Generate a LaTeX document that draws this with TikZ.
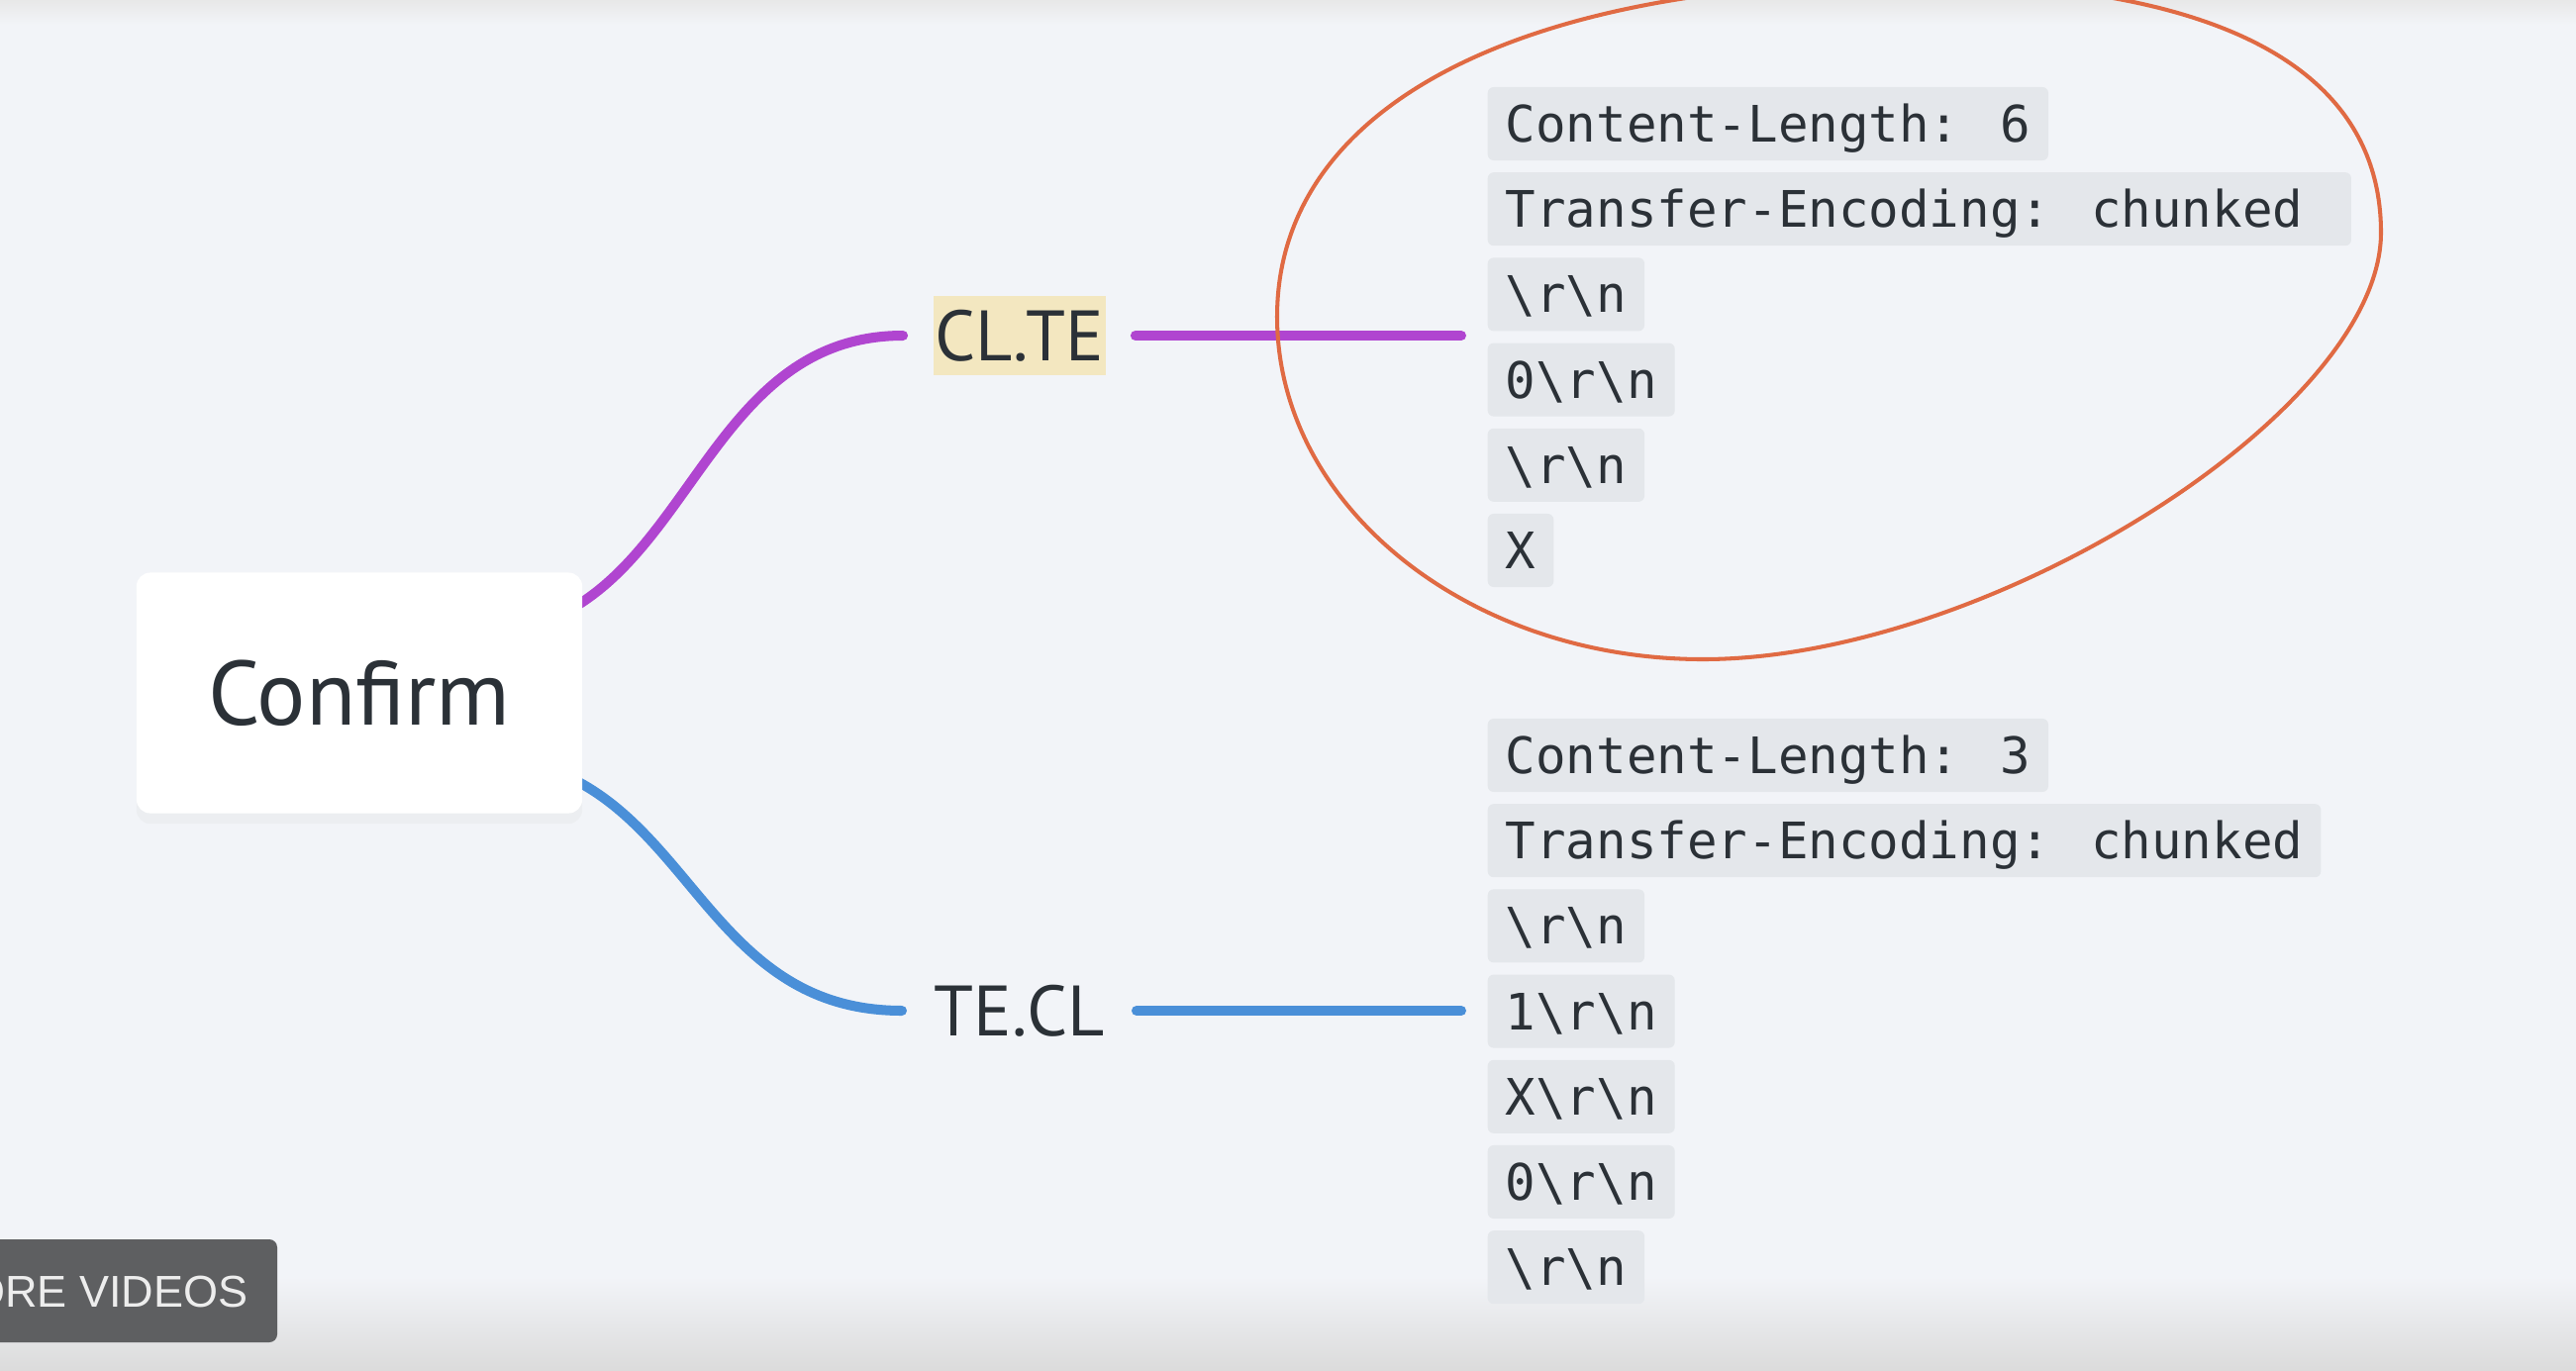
\documentclass[tikz,border=0pt]{standalone}
\usepackage{fontspec}
\setmainfont{PT Sans}
\newfontfamily\codefont{DejaVu Sans Mono}
\newfontfamily\btnfont{Liberation Sans}
\usetikzlibrary{shadows}

\definecolor{bg}{HTML}{F2F4F8}
\definecolor{ink}{HTML}{2B3137}
\definecolor{codegray}{HTML}{E4E7EB}
\definecolor{clteline}{HTML}{B045D0}
\definecolor{teclline}{HTML}{4A8FD8}
\definecolor{ringcol}{HTML}{E06A43}
\definecolor{marker}{HTML}{F3E7C0}
\definecolor{btngray}{HTML}{5E5F61}

\pgfdeclarelayer{paper}
\pgfdeclarelayer{branches}
\pgfsetlayers{paper,branches,main}

\newcommand{\crlf}{\textbackslash r\textbackslash n}

\tikzset{
    codebox/.style={fill=codegray, rounded corners=0.06cm, anchor=west, text=ink,
        font=\codefont\fontsize{14.45}{17}\selectfont,
        inner xsep=0.18cm, inner ysep=0pt, minimum height=0.74cm,
        text height=0.37cm, text depth=0pt},
    branch/.style={line width=2.85pt, line cap=round},
    topic/.style={text=ink, font=\fontsize{20.5}{24}\selectfont, inner xsep=0.02cm,
        minimum height=0.8cm, text height=0.5cm, text depth=0pt}
}

\begin{document}
\begin{tikzpicture}[x=0.01cm, y=-0.01cm]
    \useasboundingbox (0,0) rectangle (2602,1384);
    \clip (0,0) rectangle (2602,1384);
    \begin{pgfonlayer}{paper}
        \fill[bg] (0,0) rectangle (2602,1384);
        \shade[top color=black!9, bottom color=bg] (0,0) rectangle (2602,25);
        \shade[top color=bg, bottom color=black!14] (0,1290) rectangle (2602,1384);
    \end{pgfonlayer}

    % root
    \node[fill=white, rounded corners=0.14cm, minimum width=4.5cm, minimum height=2.43cm,
        drop shadow={opacity=0.05, shadow xshift=0pt, shadow yshift=-3pt},
        text=ink, font=\fontsize{26.2}{31}\selectfont] (confirm) at (363,700) {Confirm};

    % the two branches
    \node[topic, fill=marker] (clte) at (1030,339) {CL.TE};
    \node[topic] (tecl) at (1030,1021) {TE.CL};

    % request bodies
    \foreach \txt [count=\i] in {Content-Length: 6, Transfer-Encoding: chunked\hspace*{0.306cm}, \crlf, 0\crlf, \crlf, X}
        \node[codebox] (cl\i) at (1502, {125+86.2*(\i-1)}) {\txt};
    \foreach \txt [count=\i] in {Content-Length: 3, Transfer-Encoding: chunked, \crlf, 1\crlf, X\crlf, 0\crlf, \crlf}
        \node[codebox] (tc\i) at (1502, {763+86.2*(\i-1)}) {\txt};

    \coordinate (clteend) at (clte.east -| cl1.west);
    \coordinate (teclend) at (tecl.east -| tc1.west);

    % connectors
    \begin{pgfonlayer}{branches}
        \draw[branch, clteline] ([shift={(117,-60)}]confirm.center)
            .. controls +(217,0) and +(-217,0) .. ([xshift=-0.3cm]clte.west);
        \draw[branch, teclline] ([shift={(117,65)}]confirm.center)
            .. controls +(217,0) and +(-217,0) .. ([xshift=-0.3cm]tecl.west);
    \end{pgfonlayer}
    \draw[branch, clteline] ([xshift=0.29cm]clte.east) -- ([xshift=-0.26cm]clteend);
    \draw[branch, teclline] ([xshift=0.29cm]tecl.east) -- ([xshift=-0.26cm]teclend);

    % hand drawn ring round the CL.TE body
    \draw[ringcol, line width=1.15pt] (1930,-18)
        .. controls (2239,-18) and (2405,68) .. (2405,235)
        .. controls (2405,416) and (2008,666) .. (1720,666)
        .. controls (1483,666) and (1290,511) .. (1290,320)
        .. controls (1290,108) and (1533,-18) .. cycle;

    % player overlay
    \fill[btngray, rounded corners=0.08cm] (-20,1252) rectangle (280,1356);
    \node[anchor=base east, inner sep=0pt, text=white!93!black,
        font=\btnfont\fontsize{12.8}{15}\selectfont] (more) at (251,1320) {ORE VIDEOS};
\end{tikzpicture}
\end{document}
